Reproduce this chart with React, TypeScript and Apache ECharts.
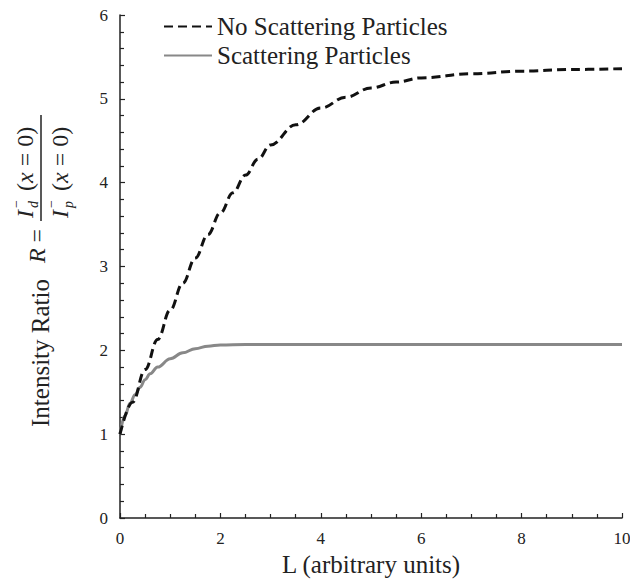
import React, { useEffect, useRef } from "react";
import * as echarts from "echarts";

const seriesNames = ["No Scattering Particles", "Scattering Particles"];
const noScatterL = [0, 0.25, 0.5, 0.75, 1.0, 1.25, 1.5, 1.75, 2.0, 2.25, 2.5, 2.75, 3.0, 3.5, 4.0, 4.5, 5.0, 5.5, 6.0, 7.0, 8.0, 9.0, 10.0];
const noScatterR = [1.0, 1.38, 1.77, 2.13, 2.48, 2.8, 3.1, 3.38, 3.64, 3.88, 4.09, 4.28, 4.45, 4.69, 4.89, 5.02, 5.13, 5.2, 5.25, 5.3, 5.33, 5.35, 5.36];
const scatterL = [0, 0.1, 0.2, 0.3, 0.4, 0.5, 0.6, 0.75, 1.0, 1.25, 1.5, 1.75, 2.0, 2.5, 3.0, 4.0, 5.0, 6.0, 7.0, 8.0, 9.0, 10.0];
const scatterR = [1.0, 1.22, 1.37, 1.47, 1.56, 1.65, 1.72, 1.8, 1.9, 1.97, 2.02, 2.05, 2.065, 2.07, 2.07, 2.07, 2.07, 2.07, 2.07, 2.07, 2.07, 2.07];
const xTitle = "L (arbitrary units)";
const yTitle = "Intensity Ratio";

const FAM = "Liberation Serif";
const INK = "#222";

export default function App() {
  const ref = useRef<HTMLDivElement>(null);
  useEffect(() => {
    document.body.style.margin = "0";
    if (!ref.current) return;
    const chart = echarts.init(ref.current, undefined, { renderer: "svg" });
    const txt = (size: number, italic = false) => ({ fontFamily: FAM, fontSize: size, fontStyle: italic ? "italic" : "normal", fill: INK });
    const fracPart = (yOff: number, sub: string) => [
      { type: "text", x: -52, y: yOff, style: { text: "I", ...txt(24, true), align: "left", verticalAlign: "middle" } },
      { type: "text", x: -42, y: yOff - 9, style: { text: "\u2212", ...txt(14), align: "left", verticalAlign: "middle" } },
      { type: "text", x: -42, y: yOff + 8, style: { text: sub, ...txt(14, true), align: "left", verticalAlign: "middle" } },
      {
        type: "text", x: -25, y: yOff,
        style: {
          text: "({i|x} = 0)", ...txt(24), align: "left", verticalAlign: "middle",
          rich: { i: { fontStyle: "italic", fontSize: 24, fontFamily: FAM, fill: INK } },
        },
      },
    ];
    chart.setOption({
      animation: false,
      backgroundColor: "#fff",
      grid: { left: 120, right: 8, top: 15, bottom: 61, outerBoundsMode: "none", containLabel: false },
      legend: {
        orient: "vertical",
        left: 158,
        top: 9,
        itemWidth: 48,
        itemHeight: 14,
        itemGap: 4,
        data: seriesNames,
        itemStyle: { opacity: 0 },
        textStyle: { fontFamily: FAM, fontSize: 25, color: INK },
      },
      xAxis: {
        type: "value",
        min: 0,
        max: 10,
        interval: 2,
        name: xTitle,
        nameLocation: "middle",
        nameGap: 33,
        nameTextStyle: { fontFamily: FAM, fontSize: 25, color: INK },
        axisLine: { lineStyle: { color: INK, width: 1.5 } },
        axisTick: { inside: true, length: 5, lineStyle: { color: INK, width: 1.2 } },
        minorTick: { show: true, splitNumber: 4, length: 4, lineStyle: { color: INK, width: 1.2 } },
        axisLabel: { fontFamily: FAM, fontSize: 17, color: INK, margin: 12 },
        splitLine: { show: false },
      },
      yAxis: {
        type: "value",
        min: 0,
        max: 6,
        interval: 1,
        axisLine: { show: true, lineStyle: { color: INK, width: 1.5 } },
        axisTick: { show: true, inside: true, length: 5, lineStyle: { color: INK, width: 1.2 } },
        minorTick: { show: true, splitNumber: 5, length: 4, lineStyle: { color: INK, width: 1.2 } },
        axisLabel: { fontFamily: FAM, fontSize: 17, color: INK, margin: 12 },
        splitLine: { show: false },
      },
      series: [
        {
          name: seriesNames[0],
          type: "line",
          smooth: 0.4,
          smoothMonotone: "x",
          symbol: "none",
          data: noScatterL.map((l, i) => [l, noScatterR[i]]),
          lineStyle: { color: "#111", width: 3, type: [9, 5] },
          itemStyle: { color: "#111" },
          z: 3,
        },
        {
          name: seriesNames[1],
          type: "line",
          smooth: 0.4,
          smoothMonotone: "x",
          symbol: "none",
          data: scatterL.map((l, i) => [l, scatterR[i]]),
          lineStyle: { color: "#888", width: 3 },
          itemStyle: { color: "#888" },
          z: 2,
        },
      ],
      graphic: [
        {
          type: "text", x: 40, y: 353, rotation: Math.PI / 2,
          style: { text: yTitle, ...txt(25), align: "center", verticalAlign: "middle" },
        },
        {
          type: "text", x: 37, y: 246, rotation: Math.PI / 2,
          style: {
            text: "{i|R} =", ...txt(24), align: "center", verticalAlign: "middle",
            rich: { i: { fontStyle: "italic", fontSize: 24, fontFamily: FAM, fill: INK } },
          },
        },
        {
          type: "group", x: 41, y: 166, rotation: Math.PI / 2,
          children: [
            { type: "line", shape: { x1: -55, y1: 0, x2: 51, y2: 0 }, style: { stroke: INK, lineWidth: 1.5 } },
            ...fracPart(-16, "d"),
            ...fracPart(19, "p"),
          ],
        },
      ],
    });
    return () => chart.dispose();
  }, []);
  return <div ref={ref} style={{ width: 630, height: 579 }} />;
}
